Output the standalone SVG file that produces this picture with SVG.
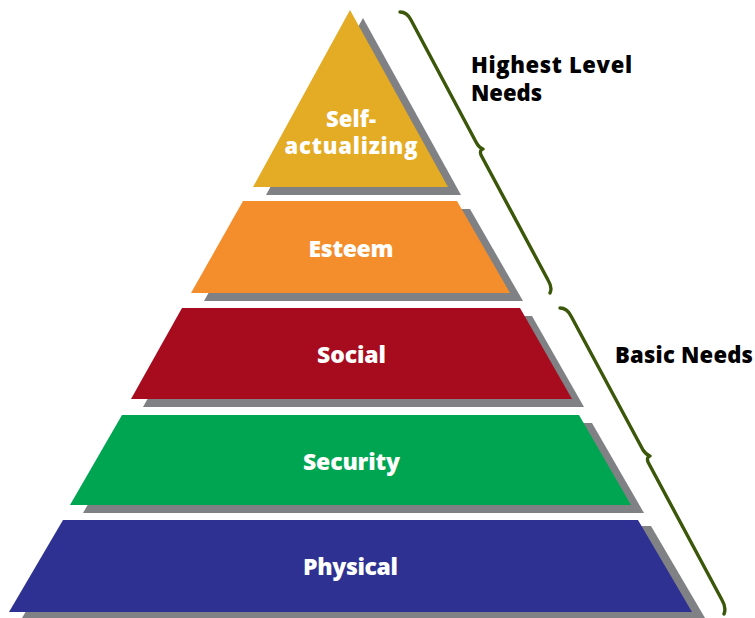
<svg xmlns="http://www.w3.org/2000/svg" width="755" height="618" viewBox="0 0 755 618">
  <defs>
    <style>
      .shadow { fill: #808184; }
      .tier-label { font-family: "Open Sans", "Liberation Sans", sans-serif; font-weight: 800; font-size: 23px; fill: #ffffff; text-anchor: middle; }
      .tier-label.small { font-size: 22px; }
      .side-label { font-family: "Open Sans", "Liberation Sans", sans-serif; font-weight: 800; font-size: 22px; fill: #000000; }
      .brace { fill: none; stroke: #3B570A; stroke-width: 3.4; stroke-linecap: round; stroke-linejoin: round; }
    </style>
  </defs>
  <rect width="755" height="618" fill="#ffffff"/>

  <!-- Pyramid tiers, each with a drop shadow offset down-right -->
  <g id="self-actualizing">
    <polygon class="shadow" points="350,10 448,187 253,187" transform="translate(13,8)"/>
    <polygon points="350,10 448,187 253,187" fill="#E4AB24"/>
    <text class="tier-label small" x="351" y="127" textLength="50">Self-</text>
    <text class="tier-label small" x="351" y="154" textLength="133">actualizing</text>
  </g>

  <g id="esteem">
    <polygon class="shadow" points="243,201 457,201 510,293 191,293" transform="translate(13,8)"/>
    <polygon points="243,201 457,201 510,293 191,293" fill="#F48E2C"/>
    <text class="tier-label" x="351" y="257" textLength="85">Esteem</text>
  </g>

  <g id="social">
    <polygon class="shadow" points="182,308 520,308 572,399 131,399" transform="translate(12,8)"/>
    <polygon points="182,308 520,308 572,399 131,399" fill="#A60B1E"/>
    <text class="tier-label" x="351.5" y="363" textLength="69">Social</text>
  </g>

  <g id="security">
    <polygon class="shadow" points="122,415 579,415 631,505 70,505" transform="translate(13,8)"/>
    <polygon points="122,415 579,415 631,505 70,505" fill="#00A551"/>
    <text class="tier-label" x="351.5" y="470" textLength="97">Security</text>
  </g>

  <g id="physical">
    <polygon class="shadow" points="63,520 638,520 692,612 9,612" transform="translate(13,6)"/>
    <polygon points="63,520 638,520 692,612 9,612" fill="#2E3192"/>
    <text class="tier-label" x="350.5" y="575" textLength="95">Physical</text>
  </g>

  <!-- Group labels -->
  <g id="highest-level-needs">
    <text class="side-label" x="471" y="73" textLength="161">Highest Level</text>
    <text class="side-label" x="471" y="101">Needs</text>
  </g>
  <g id="basic-needs">
    <text class="side-label" x="615" y="363" textLength="138">Basic Needs</text>
  </g>

  <!-- Braces grouping the tiers -->
  <g id="connectors">
    <path class="brace" d="M 400,12 C 406,12 409,16 411,20 L 476,142 C 478,146 480,148 483,149 C 480,150 480,152 481,155 L 548,280 C 551,285 552,289 550,293"/>
    <path class="brace" d="M 560,308 C 566,308 569,312 571,316 L 643,450 C 645,453 647,455 650,456 C 647,457 647,459 648,462 L 722,600 C 725,605 726,609 724,614"/>
  </g>
</svg>
